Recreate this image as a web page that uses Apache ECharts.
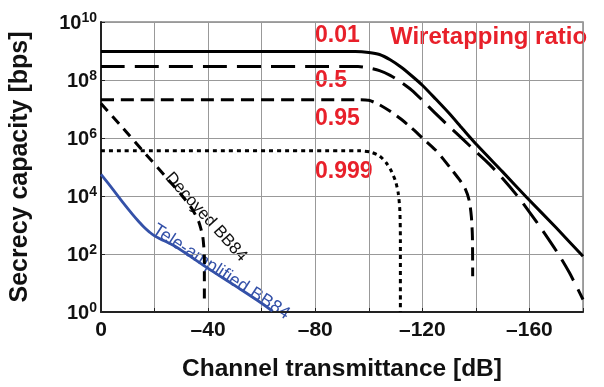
<!DOCTYPE html>
<html>
<head>
<meta charset="utf-8">
<script src="https://cdn.jsdelivr.net/npm/echarts@6/dist/echarts.min.js"></script>
<style>
html,body{margin:0;padding:0;background:#fff;}
#c{width:604px;height:387px;}
</style>
</head>
<body>
<div id="c"></div>
<script>
// Channel transmittance [dB] and secrecy capacity [bps]
var ratio001_x = [0, -95, -100, -104, -108, -112, -116, -120, -125, -130, -135, -140.5, -150, -159, -170, -180];
var ratio001_y = [9.55e8, 9.55e8, 8.9e8, 7.6e8, 5e8, 2.8e8, 1.4e8, 6.6e7, 2.2e7, 7.1e6, 2.1e6, 5.6e5, 6.8e4, 8.9e3, 800, 83];

var ratio05_x = [0, -96, -100, -104, -108, -112, -116, -120, -125, -130, -135, -140, -145, -150, -155.5, -160, -165, -170.8, -175, -180];
var ratio05_y = [2.9e8, 2.9e8, 2.6e8, 2.1e8, 1.45e8, 8.5e7, 4.5e7, 2e7, 6.9e6, 2.5e6, 9.3e5, 3.4e5, 1.26e5, 4e4, 1e4, 2.8e3, 630, 100, 22, 2.7];

var ratio095_x = [0, -96, -100, -104, -108, -112, -116, -120, -124.7, -128, -131, -134, -136, -137.5, -138.3, -138.7, -138.8];
var ratio095_y = [2.1e7, 2.1e7, 2e7, 1.4e7, 8.3e6, 4.5e6, 2.2e6, 1e6, 4e5, 1.8e5, 8e4, 3.5e4, 1.8e4, 7e3, 2e3, 400, 17];

var ratio0999_x = [0, -97, -101, -104, -106.5, -108.5, -110, -111, -111.6, -111.8, -111.8];
var ratio0999_y = [3.6e5, 3.6e5, 3.2e5, 2.4e5, 1.4e5, 7e4, 3.2e4, 1.26e4, 3.2e3, 320, 1];

var decoyed_x = [0, -8, -16, -24, -30, -34, -36.5, -38, -38.6, -38.6];
var decoyed_y = [1.55e7, 2.3e6, 3.3e5, 4.8e4, 1.1e4, 3.6e3, 1.3e3, 400, 80, 1.9];

var tele_x = [0, -4, -8, -12, -14, -16, -18, -20, -22, -24, -27, -31, -40, -50, -60, -64];
var tele_y = [5.6e4, 1.9e4, 6.3e3, 2.2e3, 1.35e3, 850, 580, 420, 335, 275, 200, 117, 32, 8.1, 2, 1.07];

var ratioLabels = ['0.01', '0.5', '0.95', '0.999'];
var legendTitle = 'Wiretapping ratio';
var decoyedName = 'Decoyed BB84';
var teleName = 'Tele-amplified BB84';
var xName = 'Channel transmittance [dB]';
var yName = 'Secrecy capacity [bps]';

function pairs(xs, ys){ return xs.map(function(x,i){ return [x, ys[i]]; }); }

var FONT = '"Liberation Sans", Arial, sans-serif';
var RED = '#e8202a';
var BLUE = '#3451a8';

var chart = echarts.init(document.getElementById('c'), null, {renderer:'canvas'});

function lineSeries(data, color, width, type, smooth){
  return {
    type:'line', data:data, showSymbol:false, smooth:smooth, animation:false,
    lineStyle:{color:color, width:width, type:type, cap:'butt'}
  };
}

chart.setOption({
  animation:false,
  backgroundColor:'#fff',
  grid:{left:96, right:21, top:22, bottom:64, show:true, borderColor:'#888', borderWidth:1.5},
  xAxis:{
    type:'value', min:-180, max:0, interval:20, inverse:true,
    name:xName, nameLocation:'middle', nameGap:45,
    nameTextStyle:{fontFamily:FONT, fontWeight:'bold', fontSize:24.5, color:'#111'},
    axisLine:{lineStyle:{color:'#222', width:2}},
    axisTick:{show:true, inside:true, length:4, lineStyle:{color:'#222'}},
    splitLine:{show:true, lineStyle:{color:'#999', width:1}},
    axisLabel:{
      fontFamily:FONT, fontWeight:'bold', fontSize:21, color:'#111', margin:8,
      formatter:function(v){ if (v % 40 !== 0) return ''; return v === 0 ? '0' : '\u2013' + Math.abs(v); }
    }
  },
  yAxis:{
    type:'log', logBase:10, min:1, max:1e10, interval:2,
    name:yName, nameLocation:'middle', nameGap:68,
    nameTextStyle:{fontFamily:FONT, fontWeight:'bold', fontSize:25, color:'#111'},
    axisLine:{lineStyle:{color:'#222', width:2}},
    axisTick:{show:true, inside:true, length:4, lineStyle:{color:'#222'}},
    splitLine:{show:true, lineStyle:{color:'#999', width:1}},
    axisLabel:{
      margin:4,
      formatter:function(v){ var e = Math.round(Math.log(v)/Math.LN10); return '{b|10}{s|' + e + '}'; },
      rich:{
        b:{fontFamily:FONT, fontWeight:'bold', fontSize:20, color:'#111', lineHeight:22, verticalAlign:'bottom'},
        s:{fontFamily:FONT, fontWeight:'bold', fontSize:14, color:'#111', lineHeight:22, verticalAlign:'top', padding:[0,0,10,0]}
      }
    }
  },
  series:[
    lineSeries(pairs(ratio001_x, ratio001_y), '#000', 3, 'solid', 0.25),
    lineSeries(pairs(ratio05_x, ratio05_y), '#000', 3, [24,10], 0.25),
    lineSeries(pairs(ratio095_x, ratio095_y), '#000', 3, [13,7], 0.25),
    lineSeries(pairs(ratio0999_x, ratio0999_y), '#000', 3, [4,4], 0.25),
    lineSeries(pairs(decoyed_x, decoyed_y), '#000', 3, [10,7], 0.2),
    lineSeries(pairs(tele_x, tele_y), BLUE, 2.8, 'solid', 0.4)
  ],
  graphic:[
    {type:'text', x:315, y:36, style:{text:ratioLabels[0], fill:RED, font:'bold 23px '+FONT, textVerticalAlign:'middle'}},
    {type:'text', x:390, y:37, style:{text:legendTitle, fill:RED, font:'bold 24px '+FONT, textVerticalAlign:'middle'}},
    {type:'text', x:315, y:81, style:{text:ratioLabels[1], fill:RED, font:'bold 23px '+FONT, textVerticalAlign:'middle'}},
    {type:'text', x:315, y:119, style:{text:ratioLabels[2], fill:RED, font:'bold 23px '+FONT, textVerticalAlign:'middle'}},
    {type:'text', x:315, y:172, style:{text:ratioLabels[3], fill:RED, font:'bold 23px '+FONT, textVerticalAlign:'middle'}},
    {type:'text', x:206, y:217, rotation:-48*Math.PI/180, style:{text:decoyedName, fill:'#111', font:'17px '+FONT, textAlign:'center', textVerticalAlign:'middle'}},
    {type:'text', x:221, y:272, rotation:-33*Math.PI/180, style:{text:teleName, fill:BLUE, font:'18px '+FONT, textAlign:'center', textVerticalAlign:'middle'}}
  ]
});
</script>
</body>
</html>
